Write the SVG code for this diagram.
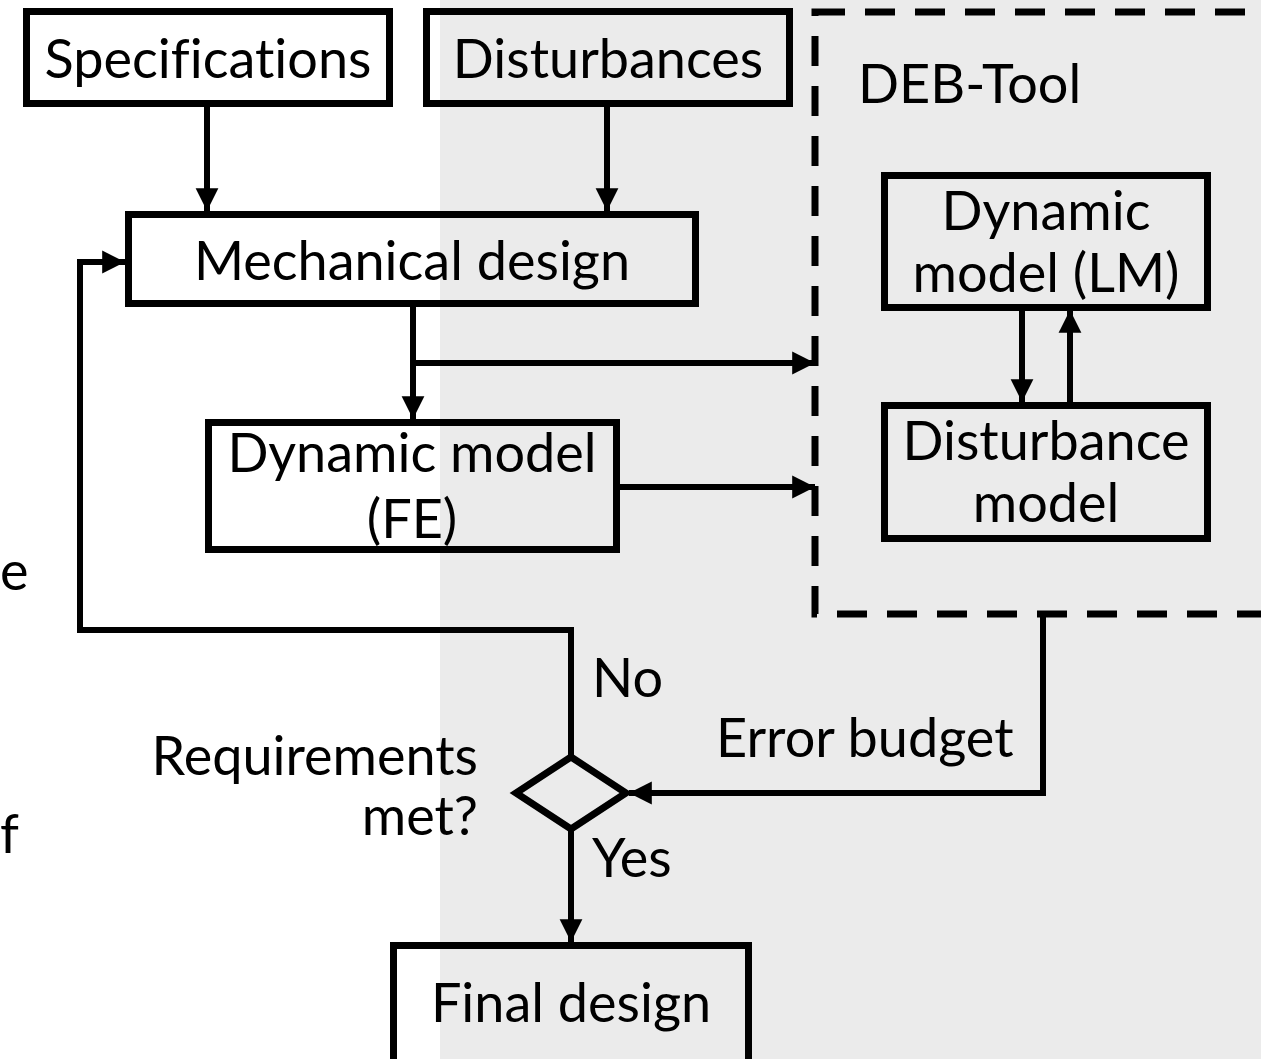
<svg xmlns="http://www.w3.org/2000/svg" width="1261" height="1059" viewBox="0 0 1261 1059">
<defs>
<style>
.t{font-family:Lato,"Liberation Sans",sans-serif;font-size:54px;fill:#000;font-variant-ligatures:none;font-feature-settings:"liga" 0}
.m{text-anchor:middle}
.b{fill:none;stroke:#000;stroke-width:7}
.c{fill:none;stroke:#000;stroke-width:6}
</style>
<marker id="ah" viewBox="0 0 10 10" refX="10" refY="5" markerWidth="3.8" markerHeight="4" orient="auto" markerUnits="strokeWidth">
<path d="M0,0 L10,5 L0,10 z" fill="#000"/>
</marker>
</defs>
<rect x="0" y="0" width="1261" height="1059" fill="#fff"/>
<rect x="440" y="0" width="821" height="1059" fill="#ebebeb"/>
<text class="t" x="0" y="590">e</text>
<text class="t" x="0" y="853">f</text>
<g id="deb-tool">
<rect x="815" y="12" width="500" height="602" fill="none" stroke="#000" stroke-width="7" stroke-dasharray="30 20"/>
<text class="t" x="858" y="103">DEB-Tool</text>
</g>
<g id="specifications">
<rect class="b" x="26.5" y="11.5" width="363" height="92"/>
<text class="t m" x="208" y="78">Specifications</text>
</g>
<g id="disturbances">
<rect class="b" x="426.5" y="11.5" width="363" height="92"/>
<text class="t m" x="608" y="78">Disturbances</text>
</g>
<g id="mechanical-design">
<rect class="b" x="128.5" y="214.5" width="567" height="89"/>
<text class="t m" x="412" y="280">Mechanical design</text>
</g>
<g id="dynamic-model-fe">
<rect class="b" x="208.5" y="422.5" width="408" height="127"/>
<text class="t m" x="412" y="472">Dynamic model</text>
<text class="t m" x="412" y="538">(FE)</text>
</g>
<g id="dynamic-model-lm">
<rect class="b" x="884.5" y="175.5" width="323" height="132"/>
<text class="t m" x="1046" y="230">Dynamic</text>
<text class="t m" x="1046" y="292">model (LM)</text>
</g>
<g id="disturbance-model">
<rect class="b" x="884.5" y="405.5" width="323" height="133"/>
<text class="t m" x="1046" y="460">Disturbance</text>
<text class="t m" x="1046" y="522">model</text>
</g>
<g id="requirements-met">
<path class="b" d="M571,757 L626,793 L571,829 L516,793 Z" stroke-width="8"/>
<text class="t" x="478" y="775" text-anchor="end">Requirements</text>
<text class="t" x="478" y="835" text-anchor="end">met?</text>
</g>
<g id="final-design">
<rect class="b" x="393.5" y="945.5" width="355" height="120"/>
<text class="t m" x="571" y="1022">Final design</text>
</g>
<g id="connectors">
<line class="c" x1="207" y1="106" x2="207" y2="211" marker-end="url(#ah)"/>
<line class="c" x1="607" y1="106" x2="607" y2="211" marker-end="url(#ah)"/>
<line class="c" x1="413" y1="307" x2="413" y2="419" marker-end="url(#ah)"/>
<line class="c" x1="413" y1="363" x2="815" y2="363" marker-end="url(#ah)"/>
<line class="c" x1="619" y1="487" x2="815" y2="487" marker-end="url(#ah)"/>
<line class="c" x1="1022" y1="310" x2="1022" y2="402" marker-end="url(#ah)"/>
<line class="c" x1="1070" y1="402" x2="1070" y2="310" marker-end="url(#ah)"/>
<polyline class="c" points="571,755 571,630 80,630 80,262 125,262" marker-end="url(#ah)"/>
<polyline class="c" points="1043,614 1043,793 629,793" marker-end="url(#ah)"/>
<line class="c" x1="571" y1="830" x2="571" y2="942" marker-end="url(#ah)"/>
<text class="t" x="592" y="697">No</text>
<text class="t" x="716" y="757">Error budget</text>
<text class="t" x="592" y="877">Yes</text>
</g>
</svg>
